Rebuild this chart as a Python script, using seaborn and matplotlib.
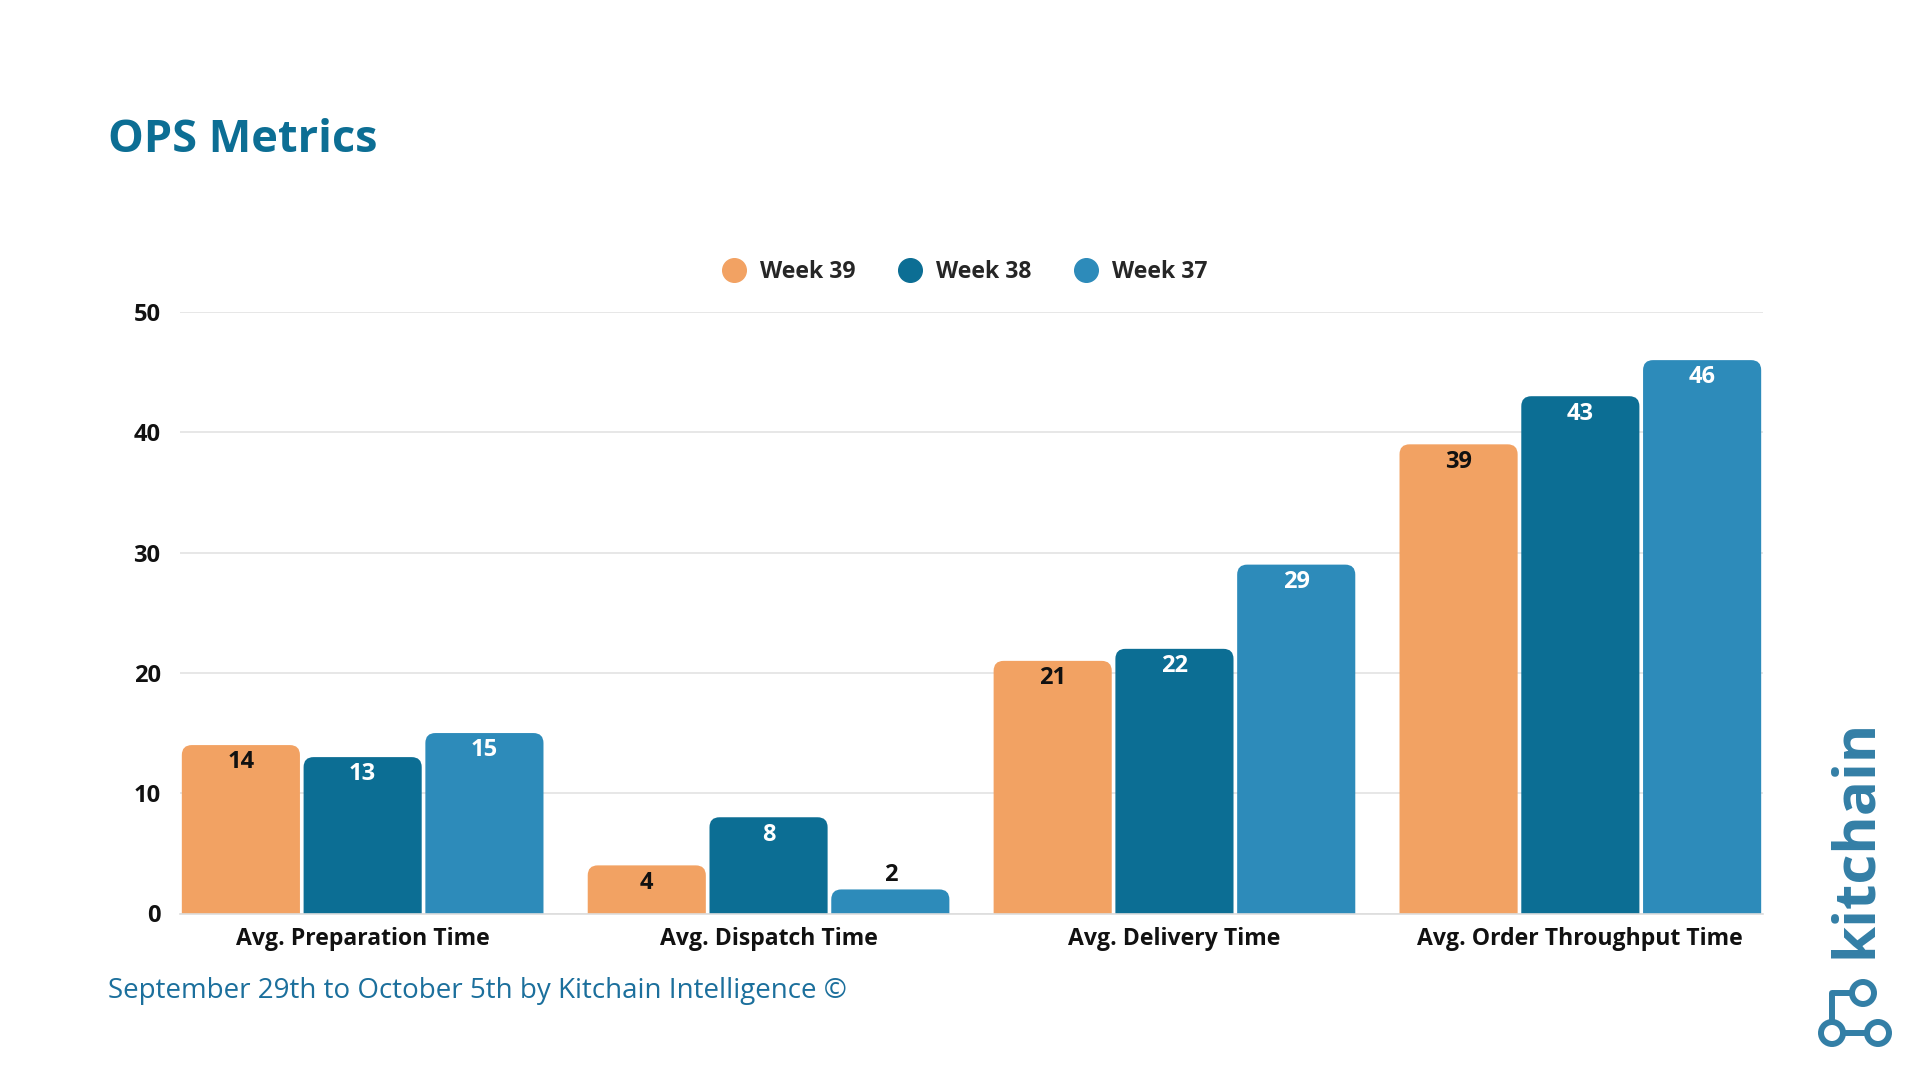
import matplotlib
matplotlib.use("Agg")
import matplotlib.pyplot as plt
import seaborn as sns
import pandas as pd
from matplotlib.patches import FancyBboxPatch, Circle
from matplotlib.lines import Line2D

# ---------------- data ----------------
categories = ["Avg. Preparation Time", "Avg. Dispatch Time",
              "Avg. Delivery Time", "Avg. Order Throughput Time"]
weeks = ["Week 39", "Week 38", "Week 37"]
week39 = [14, 4, 21, 39]
week38 = [13, 8, 22, 43]
week37 = [15, 2, 29, 46]
series = [week39, week38, week37]
y_ticks = [0, 10, 20, 30, 40, 50]

title = "OPS Metrics"
footer = "September 29th to October 5th by Kitchain Intelligence ©"
logo_text = "kitchain"

# ---------------- style ----------------
colors = ["#F2A263", "#0C6E94", "#2D8BBA"]
label_colors = ["#111111", "white", "white"]
title_color = "#0C6E94"
footer_color = "#1B6F9C"
logo_color = "#337FA6"

sns.set_theme(style="white")
plt.rcParams['font.family'] = ['Open Sans', 'DejaVu Sans']

df = pd.DataFrame({
    "metric": [c for s in series for c in categories],
    "week": [w for w, s in zip(weeks, series) for _ in s],
    "value": [v for s in series for v in s],
})

W, H = 1920, 1080
fig = plt.figure(figsize=(W / 100, H / 100), dpi=100)
fig.patch.set_facecolor("white")

ax_l, ax_r, ax_top, ax_bot = 180, 1763, 312, 913.5
ax = fig.add_axes([ax_l / W, 1 - ax_bot / H, (ax_r - ax_l) / W, (ax_bot - ax_top) / H])

sns.barplot(data=df, x="metric", y="value", hue="week", order=categories,
            hue_order=weeks, palette=colors, width=0.9, gap=0.03,
            legend=False, ax=ax, saturation=1, errorbar=None)

ax.set_xlim(-0.45, 3.45)
ax.set_ylim(0, 50)

# rounded top corners for bars (using the bars' own geometry)
px_x = (ax_r - ax_l) / 3.9
px_y = (ax_bot - ax_top) / 50
r_px = 10
r_x = r_px / px_x
aspect = (r_px / px_y) / r_x
for cont in ax.containers:
    for bar in cont:
        x, w, h = bar.get_x(), bar.get_width(), bar.get_height()
        fc = bar.get_facecolor()
        bar.set_visible(False)
        rb = FancyBboxPatch((x, -3), w, h + 3,
                            boxstyle=f"round,pad=0,rounding_size={r_x}",
                            mutation_aspect=aspect, fc=fc, ec="none", zorder=2)
        ax.add_patch(rb)

# value labels
for i, cont in enumerate(ax.containers):
    for bar, val in zip(cont, series[i]):
        cx = bar.get_x() + bar.get_width() / 2
        if val >= 3:
            ax.annotate(str(val), (cx, val), xytext=(0, -12.5), textcoords="offset points",
                        ha="center", va="center", color=label_colors[i],
                        fontsize=17, fontweight="bold", zorder=3)
        else:
            ax.annotate(str(val), (cx, val), xytext=(0, 10.5), textcoords="offset points",
                        ha="center", va="center", color="#111111",
                        fontsize=17, fontweight="bold", zorder=3)

# axes styling
ax.set_yticks(y_ticks)
ax.set_yticklabels([str(t) for t in y_ticks], fontsize=17, fontweight="bold", color="#111111")
ax.set_xticks(range(len(categories)))
ax.set_xticklabels(categories, fontsize=16.6, fontweight="bold", color="#111111")
ax.tick_params(axis="y", length=0, pad=14)
ax.tick_params(axis="x", length=0, pad=10)
ax.set_xlabel("")
ax.set_ylabel("")
ax.yaxis.grid(True, color="#E3E3E3", lw=1.2)
ax.set_axisbelow(True)
for s in ["top", "right", "left"]:
    ax.spines[s].set_visible(False)
ax.spines["bottom"].set_color("#DDDDDD")
ax.spines["bottom"].set_linewidth(1.2)

# legend
handles = [Line2D([0], [0], marker="o", linestyle="none", markersize=17,
                  markerfacecolor=c, markeredgecolor=c, label=w)
           for c, w in zip(colors, weeks)]
fig.legend(handles=handles, loc="center", bbox_to_anchor=(965 / W, 1 - 272 / H),
           ncol=3, frameon=False, prop={"weight": "bold", "size": 16.6},
           handlelength=1, handletextpad=0.6, columnspacing=1.9)

# title and footer
fig.text(108 / W, 1 - 141 / H, title, fontsize=32.5, fontweight="bold",
         color=title_color, ha="left", va="center")
fig.text(108 / W, 1 - 991 / H, footer, fontsize=20, color=footer_color,
         ha="left", va="center")

# logo
fig.text(1856 / W, 1 - 838 / H, logo_text, rotation=90, ha="center", va="center",
         fontsize=42, fontweight="bold", color=logo_color)
ix0, ix1, iy0, iy1 = 1805, 1905, 960, 1060
iax = fig.add_axes([ix0 / W, 1 - iy1 / H, (ix1 - ix0) / W, (iy1 - iy0) / H])
iax.set_xlim(ix0, ix1)
iax.set_ylim(iy1, iy0)
iax.axis("off")
ring_lw = 4.3
for (cx, cy) in [(1863, 993), (1832, 1033), (1878, 1033)]:
    iax.add_patch(Circle((cx, cy), 11, fill=False, ec=logo_color, lw=ring_lw))
iax.plot([1852, 1832, 1832], [993, 993, 1022], color=logo_color, lw=ring_lw,
         solid_joinstyle="round", solid_capstyle="butt")
iax.plot([1843, 1867], [1033, 1033], color=logo_color, lw=ring_lw, solid_capstyle="butt")

fig.savefig("out.png", dpi=100, facecolor="white")
